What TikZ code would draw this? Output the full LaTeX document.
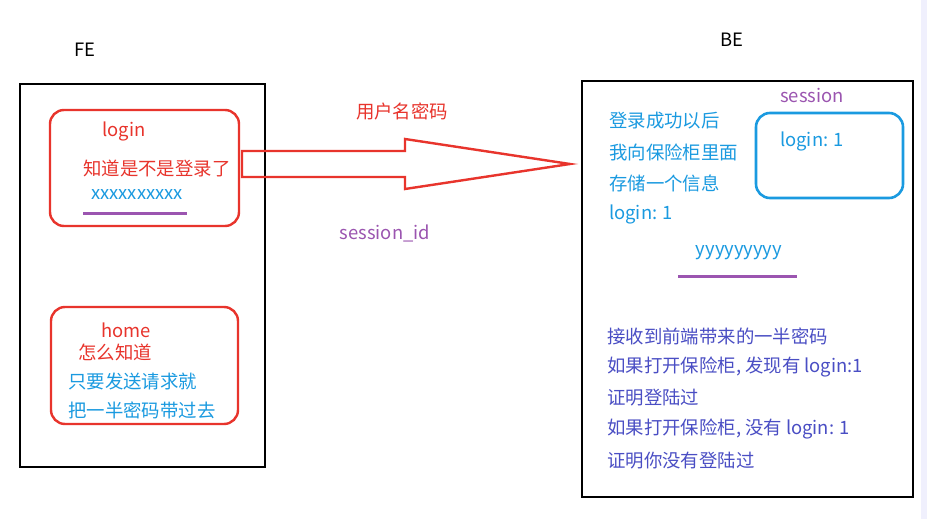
\documentclass[tikz,border=0pt]{standalone}
\usepackage{fontspec}
\setmainfont{Noto Sans CJK SC}
\begin{document}
\begin{tikzpicture}[x=1pt,y=-1pt,
  every node/.style={inner sep=0pt,font=\fontsize{18.4}{20}\selectfont},
  outerbox/.style={draw=black,line width=2.8pt},
  redbox/.style={draw=myred,line width=2.4pt,rounded corners=14pt},
  bluebox/.style={draw=myblue,line width=2.6pt,rounded corners=14pt},
  redtxt/.style={text=myred,anchor=west},
  bluetxt/.style={text=myblue,anchor=west},
  indtxt/.style={text=myindigo,anchor=west},
  purptxt/.style={text=mypurple},
  uline/.style={draw=mypurple,line width=3pt}]
\definecolor{myred}{HTML}{E8342C}
\definecolor{myblue}{HTML}{1A9AE0}
\definecolor{mypurple}{HTML}{9B55B0}
\definecolor{myindigo}{HTML}{4A4EC4}
\useasboundingbox[fill=white] (0,0) rectangle (927,519);
\fill[fill=black!12!blue!6!white] (921,0) rectangle (927,519);
% FE
\node (fe) at (85,50) {FE};
\draw[outerbox] (20,84) rectangle (265,467);
\node[redbox,minimum width=189pt,minimum height=116pt] (login) at (144.5,168) {};
\node[text=myred] (logintxt) at (124,131) {login};
\node[redtxt] (know) at (83,168) {知道是不是登录了};
\node[text=myblue] (xx) at (137,195) {xxxxxxxxxx};
\coordinate (xl) at (83,213); \coordinate (xr) at (187,213);
\draw[uline] (xl) -- (xr);
\node[redbox,minimum width=187pt,minimum height=117pt] (home) at (144.5,365.5) {};
\node[text=myred] (hometxt) at (126,330) {home};
\node[redtxt] (h1) at (78,352) {怎么知道};
\node[bluetxt] (h2) at (68,381) {只要发送请求就};
\node[bluetxt] (h3) at (68,410) {把一半密码带过去};
% arrow
\coordinate (a0) at (242,151);
\draw[draw=myred,line width=2.4pt,line join=miter]
  (a0) -- (405,151) -- (405,139) -- (570,164) -- (405,189) -- (405,177) -- (242,177) -- cycle;
\node[text=myred] (up) at (402,111) {用户名密码};
\node[purptxt] (sid) at (385,233) {session\_id};
% BE
\node (be) at (732,40) {BE};
\draw[outerbox] (582,81) rectangle (913,497);
\node[purptxt] (sess) at (812,95) {session};
\node[bluebox,minimum width=147pt,minimum height=85pt] (sbox) at (829.5,155.5) {};
\node[bluetxt] (sl) at (780,141) {login: 1};
\node[bluetxt] (b1) at (609,121) {登录成功以后};
\node[bluetxt] (b2) at (609,152) {我向保险柜里面};
\node[bluetxt] (b3) at (609,183) {存储一个信息};
\node[bluetxt] (b4) at (609,214) {login: 1};
\node[text=myblue] (yy) at (739,253) {yyyyyyyyy};
\coordinate (yl) at (678,276); \coordinate (yr) at (797,276);
\draw[uline] (yl) -- (yr);
\node[indtxt] (c1) at (607,336) {接收到前端带来的一半密码};
\node[indtxt] (c2) at (607,367) {如果打开保险柜,\ 发现有 login:1};
\node[indtxt] (c3) at (607,398) {证明登陆过};
\node[indtxt] (c4) at (607,429) {如果打开保险柜,\ 没有 login: 1};
\node[indtxt] (c5) at (607,461) {证明你没有登陆过};
\end{tikzpicture}
\end{document}
